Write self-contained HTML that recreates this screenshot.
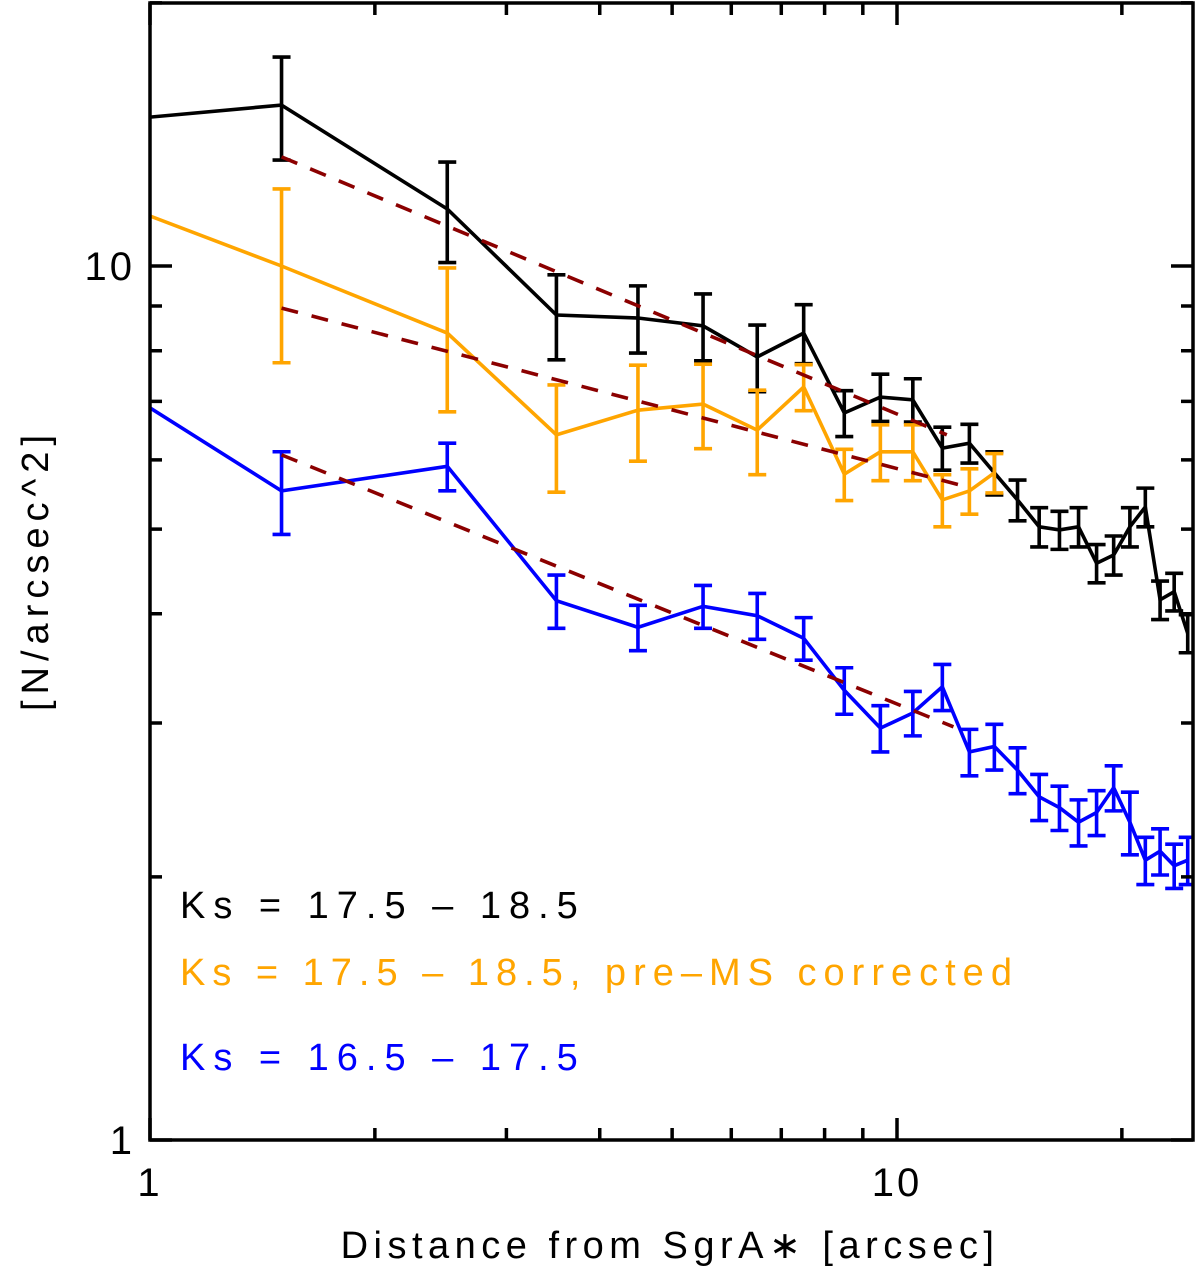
<!DOCTYPE html>
<html><head><meta charset="utf-8"><style>
html,body{margin:0;padding:0;background:#fff;}
svg{display:block;font-family:"Liberation Sans",sans-serif;}
</style></head><body>
<svg id="chart" width="1200" height="1276" viewBox="0 0 1200 1276" xmlns="http://www.w3.org/2000/svg">
<defs><clipPath id="plotclip"><rect x="150" y="3" width="1043" height="1137"/></clipPath></defs>
<g id="marks" clip-path="url(#plotclip)"></g>
<g id="axes"></g>
</svg>
<script>
const xs = [0.5,1.5,2.5,3.5,4.5,5.5,6.5,7.5,8.5,9.5,10.5,11.5,12.5,13.5,14.5,15.5,16.5,17.5,18.5,19.5,20.5,21.5,22.5,23.5,24.5];
const blackVals = [14.02,15.28,11.62,8.79,8.72,8.54,7.87,8.38,6.79,7.08,7.03,6.19,6.27,5.80,5.40,5.03,4.99,5.03,4.57,4.67,5.03,5.30,4.15,4.24,3.80];
const blackErr = [0,2.06,1.53,0.98,0.77,0.75,0.69,0.65,0.41,0.44,0.40,0.35,0.32,0.33,0.29,0.26,0.25,0.26,0.23,0.24,0.26,0.27,0.21,0.21,0.19];
const orangeVals = [14.29,10.0,8.38,6.41,6.84,6.95,6.49,7.27,5.78,6.13,6.13,5.40,5.53,5.80];
const orangeErr = [0,2.25,1.57,0.90,0.86,0.77,0.72,0.44,0.39,0.45,0.45,0.37,0.33,0.30];
const blueVals = [10.0,5.53,5.90,4.14,3.86,4.08,3.98,3.75,3.27,2.96,3.08,3.30,2.78,2.82,2.65,2.47,2.40,2.31,2.37,2.53,2.31,2.09,2.14,2.06,2.09];
const blueErr = [0,0.60,0.37,0.29,0.23,0.23,0.24,0.21,0.20,0.18,0.18,0.20,0.17,0.17,0.16,0.15,0.14,0.14,0.14,0.15,0.19,0.13,0.13,0.12,0.13];
const fitUpperX = [1.5,11.66], fitUpperY = [13.33,6.41];
const fitMiddleX = [1.5,12.4], fitMiddleY = [8.95,5.59];
const fitLowerX = [1.5,11.9], fitLowerY = [6.08,2.97];
const xTickMajor = [1,10], yTickMajor = [1,10];
const xTickMinor = [2,3,4,5,6,7,8,9,20];
const yTickMinor = [2,3,4,5,6,7,8,9,20];
const xTickLabels = ["1","10"], yTickLabels = ["1","10"];

const NS="http://www.w3.org/2000/svg";
const X = d => 150 + 747*Math.log10(d);
const Y = v => 1140 - 874*Math.log10(v);
const marks=document.getElementById('marks'), axes=document.getElementById('axes');
function mk(tag, attrs, parent){const e=document.createElementNS(NS,tag);for(const k in attrs)e.setAttribute(k,attrs[k]);parent.appendChild(e);return e;}

function series(vals, errs, color, name){
  const g=mk('g',{},marks);
  
  
  const pts=vals.map((v,i)=>X(xs[i]).toFixed(1)+','+Y(v).toFixed(1)).join(' ');
  const pl=mk('polyline',{points:pts,fill:'none',stroke:color,'stroke-width':3.6,'stroke-linejoin':'miter'},g);
  
  
  vals.forEach((v,i)=>{
    if(!errs[i]) return;
    const x=X(xs[i]), y1=Y(v+errs[i]), y2=Y(v-errs[i]);
    const eb=mk('path',{d:`M${x},${y1}V${y2}M${x-9},${y1}H${x+9}M${x-9},${y2}H${x+9}`,stroke:color,'stroke-width':3.6,fill:'none'},g);
    
    
  });
}
function fit(fx, fy, name){
  const l=mk('line',{x1:X(fx[0]),y1:Y(fy[0]),x2:X(fx[1]),y2:Y(fy[1]),stroke:'#8b0000','stroke-width':3.6,'stroke-dasharray':'17,14'},marks);
  
  
}
series(blackVals, blackErr, '#000', 'ks-17-5-18-5');
series(orangeVals, orangeErr, '#ffa500', 'ks-pre-ms-corrected');
series(blueVals, blueErr, '#0000ff', 'ks-16-5-17-5');
fit(fitUpperX, fitUpperY, 'fit-upper');
fit(fitMiddleX, fitMiddleY, 'fit-middle');
fit(fitLowerX, fitLowerY, 'fit-lower');

const frame=mk('rect',{x:150,y:3,width:1043,height:1137,fill:'none',stroke:'#000','stroke-width':3.5},axes);


function xtick(d,len){const x=X(d);const t=mk('path',{d:`M${x},1140V${1140-len}M${x},3V${3+len}`,stroke:'#000','stroke-width':3.5},axes);
  
  }
function ytick(v,len){const y=Y(v);const t=mk('path',{d:`M150,${y}H${150+len}M1193,${y}H${1193-len}`,stroke:'#000','stroke-width':3.5},axes);
  
  }
xTickMajor.forEach(d=>xtick(d,22)); xTickMinor.forEach(d=>xtick(d,12));
yTickMajor.forEach(v=>ytick(v,22)); yTickMinor.forEach(v=>ytick(v,12));
xTickMajor.forEach((d,i)=>{const t=mk('text',{x:X(d),y:1196,'font-size':40,'text-anchor':'middle','letter-spacing':3},axes);t.textContent=xTickLabels[i];
  
  });
yTickMajor.forEach((v,i)=>{const t=mk('text',{x:135,y:Y(v)+14,'font-size':40,'text-anchor':'end','letter-spacing':3},axes);t.textContent=yTickLabels[i];
  
  });
</script>
<svg style="position:absolute;left:0;top:0" width="1200" height="1276">
<text x="670" y="1258" font-size="38" text-anchor="middle" font-family="Liberation Sans, sans-serif" letter-spacing="5.5">Distance from SgrA∗ [arcsec]</text>
<text transform="translate(48,570) rotate(-90)" font-size="38" text-anchor="middle" font-family="Liberation Sans, sans-serif" letter-spacing="6">[N/arcsec^2]</text>
<text x="180" y="918" font-size="38" fill="#000" font-family="Liberation Sans, sans-serif" letter-spacing="8">Ks = 17.5 – 18.5</text>
<text x="180" y="985" font-size="38" fill="#ffa500" font-family="Liberation Sans, sans-serif" letter-spacing="7">Ks = 17.5 – 18.5, pre–MS corrected</text>
<text x="180" y="1070" font-size="38" fill="#0000ff" font-family="Liberation Sans, sans-serif" letter-spacing="8">Ks = 16.5 – 17.5</text>
</svg>
</body></html>
